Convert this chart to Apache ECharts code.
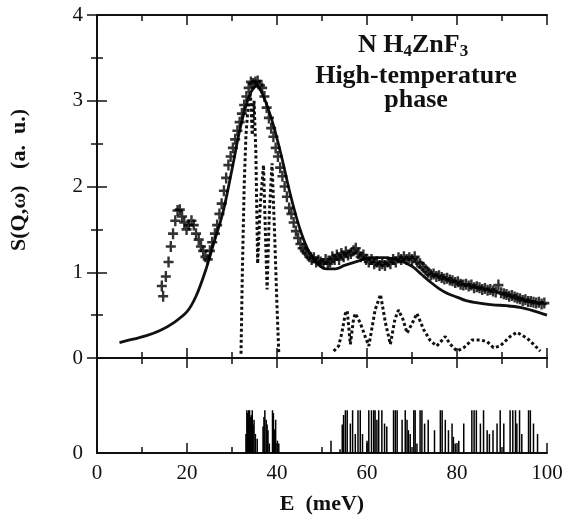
<!DOCTYPE html>
<html>
<head>
<meta charset="utf-8">
<script src="https://cdn.jsdelivr.net/npm/echarts@6/dist/echarts.min.js"></script>
<style>
  html, body { margin: 0; padding: 0; background: #fff; }
  #chart { width: 568px; height: 520px; }
</style>
</head>
<body>
<div id="chart"></div>
<script>
// measured points, E (meV) vs S(Q,w)
var crosses = [
  [14.4,0.84],[14.7,0.72],[15.3,0.95],[15.9,1.12],[16.4,1.30],[16.9,1.45],[17.4,1.60],[17.9,1.72],
  [18.4,1.73],[18.9,1.65],[19.4,1.58],[19.9,1.50],[20.4,1.55],[21.0,1.60],[21.5,1.55],[22.0,1.45],
  [22.6,1.38],[23.1,1.30],[23.6,1.25],[24.1,1.18],[24.6,1.15],[25.1,1.25],[25.6,1.35],[26.2,1.45],
  [26.7,1.55],[27.2,1.68],[27.7,1.80],[28.2,1.95],[28.7,2.10],[29.2,2.25],[29.7,2.35],[30.2,2.45],
  [30.7,2.55],[31.2,2.65],[31.7,2.75],[32.2,2.85],[32.7,2.95],[33.2,3.05],[33.7,3.15],[34.2,3.22],
  [34.7,3.20],[35.2,3.22],[35.7,3.23],[36.2,3.18],[36.7,3.15],[37.2,3.05],[37.7,2.92],[38.2,2.80],
  [38.7,2.68],[39.2,2.58],[39.7,2.45],[40.2,2.35],[40.7,2.22],[41.2,2.12],[41.7,2.00],[42.2,1.88],
  [42.7,1.75],[43.2,1.68],[43.7,1.58],[44.2,1.48],[44.7,1.40],[45.2,1.33],[45.7,1.28],[46.2,1.25],
  [46.7,1.22],[47.2,1.18],[47.7,1.15],[48.2,1.17],[48.7,1.12],[49.2,1.14],[49.7,1.12],[50.3,1.10],
  [50.8,1.15],[51.3,1.10],[51.8,1.12],[52.3,1.18],[52.8,1.15],[53.3,1.20],[53.8,1.15],[54.3,1.22],
  [54.8,1.18],[55.3,1.24],[55.8,1.20],[56.4,1.22],[57.0,1.25],[57.5,1.28],[58.1,1.22],[58.6,1.18],
  [59.2,1.20],[59.8,1.15],[60.4,1.12],[61.0,1.15],[61.6,1.10],[62.2,1.12],[62.8,1.08],[63.4,1.10],
  [64.0,1.08],[64.6,1.12],[65.2,1.10],[65.8,1.15],[66.4,1.12],[67.0,1.17],[67.6,1.15],[68.2,1.18],
  [68.8,1.15],[69.4,1.17],[70.0,1.15],[70.6,1.18],[71.2,1.12],[71.8,1.10],[72.4,1.06],[73.0,1.03],
  [73.6,1.00],[74.2,0.97],[74.8,0.98],[75.4,0.95],[76.0,0.96],[76.6,0.94],[77.2,0.92],[77.8,0.93],
  [78.4,0.91],[79.0,0.90],[79.6,0.88],[80.2,0.89],[80.8,0.86],[81.4,0.85],[82.0,0.86],[82.6,0.84],
  [83.2,0.85],[83.8,0.82],[84.4,0.83],[85.0,0.82],[85.6,0.80],[86.2,0.81],[86.8,0.79],[87.4,0.80],
  [88.0,0.78],[88.6,0.77],[89.2,0.85],[89.8,0.76],[90.4,0.75],[91.0,0.74],[91.6,0.72],[92.2,0.73],
  [92.8,0.71],[93.4,0.70],[94.0,0.69],[94.6,0.67],[95.2,0.68],[95.8,0.66],[96.4,0.66],[97.0,0.65],
  [97.6,0.64],[98.2,0.65],[98.8,0.63],[99.4,0.64]
];

// calculated spectrum
var calc = [
  [5,0.18],[8,0.22],[11,0.26],[14,0.32],[17,0.41],[20,0.54],[22,0.72],[24,1.00],[26,1.35],
  [28,1.70],[30,2.20],[32,2.72],[34,3.08],[35.5,3.17],[37,3.05],[39,2.75],[41,2.35],[43,1.90],
  [45,1.52],[47,1.25],[49,1.10],[51,1.04],[53,1.04],[55,1.08],[58,1.13],[61,1.17],[64,1.17],
  [67,1.14],[70,1.07],[72,0.98],[74,0.89],[76,0.81],[78,0.75],[80,0.71],[82,0.67],[85,0.64],
  [88,0.62],[91,0.61],[94,0.59],[97,0.55],[100,0.50]
];

// partial contribution (dotted), two pieces
var partLow = [
  [32.0,0.05],[32.3,1.0],[32.7,2.0],[33.1,2.6],[33.6,2.95],[34.1,3.08],[34.5,2.6],[34.9,3.0],
  [35.3,2.4],[35.7,1.1],[36.3,1.8],[37.0,2.25],[37.4,1.5],[37.8,0.8],[38.3,1.7],[38.9,2.27],
  [39.5,1.4],[40.0,0.6],[40.4,0.05]
];
var partHigh = [
  [52.6,0.08],[53.7,0.14],[54.4,0.29],[55.2,0.52],[55.6,0.55],[56.3,0.16],[57.0,0.45],[57.4,0.52],
  [58.5,0.41],[59.6,0.25],[60.4,0.14],[61.8,0.56],[63.0,0.74],[64.1,0.41],[65.2,0.16],[66.2,0.45],
  [67.0,0.56],[68.0,0.45],[68.9,0.29],[70.0,0.40],[71.1,0.52],[72.6,0.33],[74.1,0.20],[75.5,0.14],
  [77.4,0.25],[78.5,0.16],[80.0,0.08],[81.5,0.12],[83.3,0.21],[85.2,0.21],[86.7,0.19],[88.1,0.12],
  [89.6,0.14],[91.8,0.25],[93.3,0.30],[95.6,0.23],[97.4,0.14],[98.5,0.08]
];

// mode energies and weights (lower panel)
var sticks = [
  [33.1,0.20],[33.3,0.45],[33.5,0.42],[33.7,0.45],[33.9,0.45],[34.1,0.38],[34.3,0.40],[34.5,0.45],
  [34.7,0.30],[34.9,0.35],[35.2,0.20],[35.6,0.15],[36.9,0.28],[37.1,0.38],[37.3,0.45],[37.6,0.35],
  [37.8,0.30],[38.0,0.24],[38.3,0.10],[39.0,0.45],[39.2,0.42],[39.5,0.25],[39.7,0.35],[40.1,0.13],
  [40.4,0.10],[52.0,0.13],[54.0,0.04],[54.5,0.30],[54.8,0.40],[55.2,0.45],[55.6,0.45],[56.3,0.31],
  [56.8,0.45],[57.4,0.20],[58.0,0.45],[58.5,0.45],[59.0,0.20],[60.0,0.13],[60.4,0.45],[61.0,0.45],
  [61.5,0.45],[61.8,0.45],[62.2,0.35],[62.6,0.45],[63.3,0.45],[63.9,0.31],[64.4,0.28],[65.9,0.45],
  [66.3,0.45],[66.7,0.45],[67.8,0.35],[68.5,0.45],[68.9,0.35],[69.2,0.24],[69.6,0.20],[70.4,0.45],
  [70.7,0.45],[71.1,0.10],[71.8,0.45],[72.2,0.45],[72.8,0.31],[73.6,0.35],[75.0,0.24],[76.3,0.45],
  [76.7,0.45],[77.4,0.35],[78.1,0.24],[78.9,0.31],[79.2,0.17],[79.6,0.10],[80.4,0.13],[81.5,0.31],
  [83.3,0.45],[83.8,0.45],[84.3,0.45],[85.2,0.31],[85.9,0.45],[86.7,0.24],[87.2,0.20],[88.0,0.24],
  [88.9,0.31],[89.6,0.45],[90.4,0.31],[91.8,0.45],[92.4,0.45],[93.0,0.45],[93.3,0.31],[93.9,0.45],
  [94.4,0.20],[95.9,0.45],[96.3,0.45],[97.0,0.31],[97.9,0.20]
];

var serif = '"Liberation Serif", "DejaVu Serif", serif';
var ink = '#111';

function xAx(grid, pos, labels) {
  return {
    type: 'value', gridIndex: grid, position: pos, min: 0, max: 100, interval: 20,
    axisLine: { onZero: false, lineStyle: { color: ink, width: 2 } },
    axisTick: { inside: true, length: 10, lineStyle: { color: ink, width: 1.5 } },
    minorTick: { show: true, splitNumber: 2, length: 6, lineStyle: { color: ink, width: 1.5 } },
    axisLabel: { show: labels, margin: 10, color: ink, fontFamily: serif, fontSize: 21 },
    splitLine: { show: false }
  };
}

var option = {
  animation: false,
  backgroundColor: '#fff',
  grid: [
    { left: 97, top: 15, width: 450, height: 343 },
    { left: 97, top: 358, width: 450, height: 95 }
  ],
  xAxis: [
    xAx(0, 'bottom', false),
    xAx(0, 'top', false),
    Object.assign(xAx(1, 'bottom', true), {
      name: 'E  (meV)', nameLocation: 'middle', nameGap: 40,
      nameTextStyle: { color: ink, fontFamily: serif, fontSize: 22, fontWeight: 'bold' }
    }),
    xAx(1, 'top', false)
  ],
  yAxis: [
    {
      type: 'value', gridIndex: 0, min: 0, max: 4, interval: 1, position: 'left',
      axisLine: { show: true, lineStyle: { color: ink, width: 2 } },
      axisTick: { inside: true, length: 10, lineStyle: { color: ink, width: 1.5 } },
      minorTick: { show: true, splitNumber: 2, length: 6, lineStyle: { color: ink, width: 1.5 } },
      axisLabel: { margin: 14, color: ink, fontFamily: serif, fontSize: 21 },
      splitLine: { show: false }
    },
    {
      type: 'value', gridIndex: 0, min: 0, max: 4, interval: 1, position: 'right',
      axisLine: { show: true, lineStyle: { color: ink, width: 2 } },
      axisTick: { inside: true, length: 10, lineStyle: { color: ink, width: 1.5 } },
      minorTick: { show: true, splitNumber: 2, length: 6, lineStyle: { color: ink, width: 1.5 } },
      axisLabel: { show: false }, splitLine: { show: false }
    },
    {
      type: 'value', gridIndex: 1, min: 0, max: 1, interval: 1, position: 'left',
      axisLine: { show: true, lineStyle: { color: ink, width: 2 } },
      axisTick: { show: false },
      axisLabel: { margin: 14, color: ink, fontFamily: serif, fontSize: 21, showMaxLabel: false },
      splitLine: { show: false }
    },
    {
      type: 'value', gridIndex: 1, min: 0, max: 1, position: 'right',
      axisLine: { show: true, lineStyle: { color: ink, width: 2 } },
      axisTick: { show: false }, axisLabel: { show: false }, splitLine: { show: false }
    }
  ],
  graphic: [
    {
      // y axis title
      type: 'text', x: 19, y: 180, rotation: Math.PI / 2,
      style: {
        text: 'S(Q,\u03c9)   (a.  u.)', align: 'center', verticalAlign: 'middle',
        fontFamily: serif, fontSize: 22, fontWeight: 'bold', fill: ink
      }
    },
    {
      type: 'text', left: 358, top: 32,
      style: {
        text: '{b|N H}{s|4}{b|ZnF}{s|3}',
        rich: {
          b: { fontFamily: serif, fontSize: 26, fontWeight: 'bold', fill: ink, lineHeight: 30, verticalAlign: 'middle' },
          s: { fontFamily: serif, fontSize: 17, fontWeight: 'bold', fill: ink, lineHeight: 12, verticalAlign: 'bottom' }
        }
      }
    },
    {
      type: 'text', x: 416, y: 88,
      style: {
        text: 'High-temperature\nphase', align: 'center', verticalAlign: 'middle',
        fontFamily: serif, fontSize: 26, fontWeight: 'bold', lineHeight: 24, fill: ink
      }
    }
  ],
  series: [
    {
      type: 'line', xAxisIndex: 0, yAxisIndex: 0, data: calc, smooth: 0.35,
      showSymbol: false, lineStyle: { color: ink, width: 2.8 }, z: 3
    },
    {
      type: 'line', xAxisIndex: 0, yAxisIndex: 0, data: partLow,
      showSymbol: false, lineStyle: { color: ink, width: 3, type: [3, 2.5] }, z: 2
    },
    {
      type: 'line', xAxisIndex: 0, yAxisIndex: 0, data: partHigh,
      showSymbol: false, lineStyle: { color: ink, width: 3, type: [3, 2.5] }, z: 2
    },
    {
      type: 'scatter', xAxisIndex: 0, yAxisIndex: 0, data: crosses,
      symbol: 'path://M3.8,0h2.4v10h-2.4zM0,3.8h10v2.4h-10z', symbolSize: [10, 11],
      itemStyle: { color: '#000' }, z: 4
    },
    {
      type: 'bar', xAxisIndex: 2, yAxisIndex: 2, data: sticks, barWidth: 1.5,
      itemStyle: { color: '#000' }
    }
  ]
};

var chart = echarts.init(document.getElementById('chart'), null, { renderer: 'canvas' });
chart.setOption(option);
</script>
</body>
</html>
